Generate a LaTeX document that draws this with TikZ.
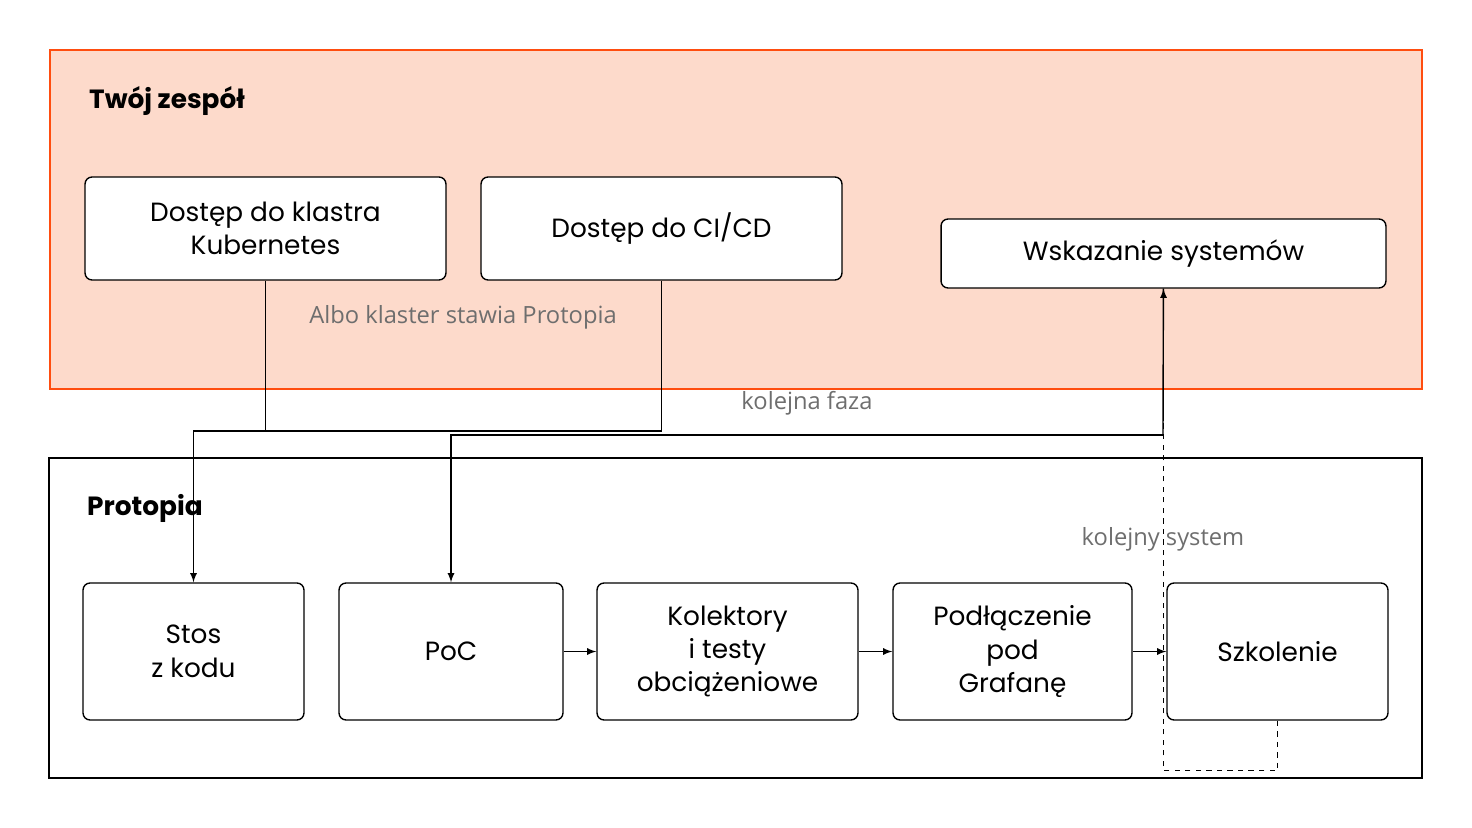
\documentclass[tikz,border=0pt]{standalone}
\usepackage{fontspec}
\setmainfont{Poppins}
\newfontfamily\labelfont{Open Sans}
\usetikzlibrary{arrows,calc}
\definecolor{teamfill}{HTML}{FDDACB}
\definecolor{teamline}{HTML}{FF4D0F}
\definecolor{labelgray}{HTML}{6E6E6E}
\tikzset{
  stage/.style={draw, thick, rounded corners=4pt, fill=white, align=center, font=\fontsize{15}{19}\selectfont},
  conn/.style={thick, -latex},
  note/.style={text=labelgray, font=\labelfont\fontsize{13.5}{16}\selectfont}
}
\begin{document}
\begin{tikzpicture}[x=0.02cm, y=-0.02cm]
\useasboundingbox (0,0) rectangle (1472,828);

    % obszary
    \draw[teamline, very thick, fill=teamfill] (50,50) rectangle (1422,389);
    \draw[thick] (49,458) rectangle (1422,778);
    \node[anchor=west, font=\bfseries\fontsize{15}{18}\selectfont] (team) at (83,101) {Twój zespół};
    \node[anchor=west, font=\bfseries\fontsize{15}{18}\selectfont] (proto) at (81,508) {Protopia};

    % kroki zespołu
    \node[stage, minimum width=7.22cm, minimum height=2.06cm] (kube) at (265.5,228.5) {Dostęp do klastra\\Kubernetes};
    \node[stage, minimum width=7.22cm, minimum height=2.06cm] (cicd) at (661.5,228.5) {Dostęp do CI/CD};
    \node[stage, minimum width=8.9cm, minimum height=1.38cm] (wsk) at (1163.5,253.5) {Wskazanie systemów};

    % kroki Protopii
    \node[stage, minimum width=4.42cm, minimum height=2.74cm] (stos) at (193.5,651.5) {Stos\\z kodu};
    \node[stage, minimum width=4.48cm, minimum height=2.74cm] (poc) at (451,651.5) {PoC};
    \node[stage, minimum width=5.22cm, minimum height=2.74cm] (kol) at (727.5,651.5) {Kolektory\\i testy\\obciążeniowe};
    \node[stage, minimum width=4.78cm, minimum height=2.74cm] (pod) at (1012.5,651.5) {Podłączenie\\pod\\Grafanę};
    \node[stage, minimum width=4.42cm, minimum height=2.74cm] (szk) at (1277.5,651.5) {Szkolenie};

    \coordinate (join) at (265,431);
    \coordinate (faza) at (1163,435);

    \draw[conn] (kube) |- (join) -| (stos);
    \draw[thick] (cicd) |- (join);
    \draw[conn] (faza) -| (poc);
    \draw[thick] (wsk) -- (faza);
    \draw[thick, dashed, -latex] (szk.south) -- ++(0,50) -| (wsk.south);
    \draw[conn] (poc) -- (kol);
    \draw[conn] (kol) -- (pod);
    \draw[conn] (pod) -- (szk);

    \node[note] (albo) at (463,317) {Albo klaster stawia Protopia};
    \node[note] (kfaza) at (807,403) {kolejna faza};
    \node[note] (ksys) at (1163,539) {kolejny system};
\end{tikzpicture}
\end{document}
